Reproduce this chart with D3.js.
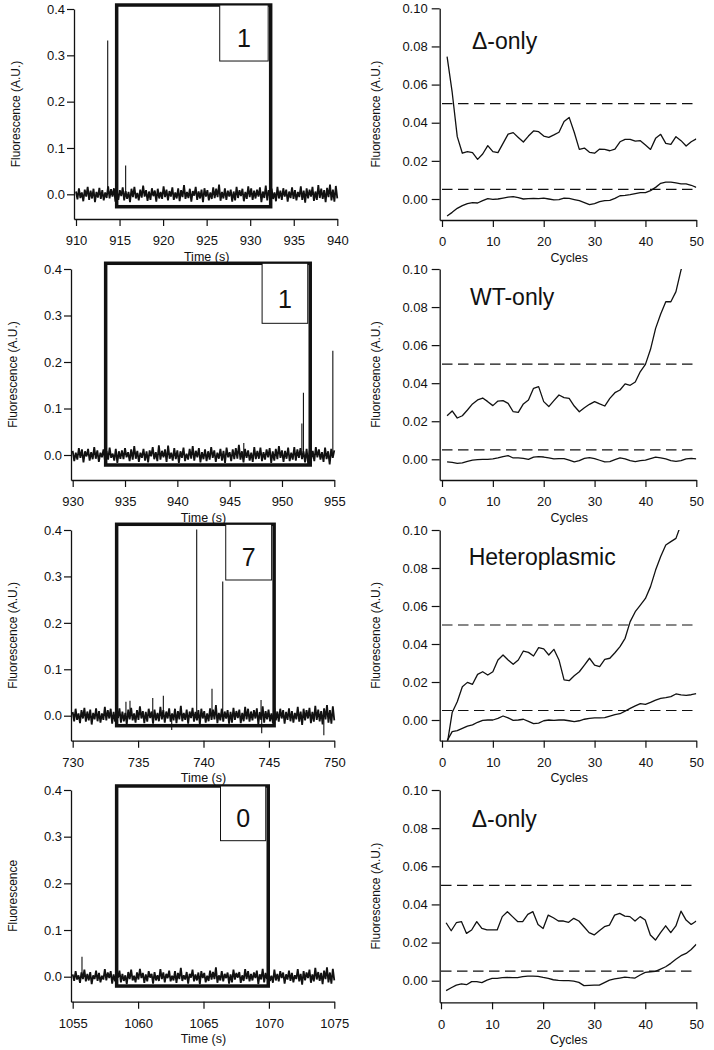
<!DOCTYPE html>
<html><head><meta charset="utf-8">
<script src="https://cdn.jsdelivr.net/npm/d3@7"></script>
<style>
body{margin:0;background:#fff}
svg{display:block}
text{font-family:"Liberation Sans", Arial, Helvetica, sans-serif;fill:#111}
</style>
</head><body>
<svg id="chart" width="714" height="1050"></svg>
<script>
// ---------------- DATA ----------------
const timeRanges = [[910, 940], [930, 955], [730, 750], [1055, 1075]];
const timeTicks = [
  [910, 915, 920, 925, 930, 935, 940],
  [930, 935, 940, 945, 950, 955],
  [730, 735, 740, 745, 750],
  [1055, 1060, 1065, 1070, 1075]
];
const fluoTicks = [0.0, 0.1, 0.2, 0.3, 0.4];
const cycleTicks = [0, 10, 20, 30, 40, 50];
const pcrTicks = [0.00, 0.02, 0.04, 0.06, 0.08, 0.10];
const leftTitles = ["Fluorescence (A.U.)", "Fluorescence (A.U.)", "Fluorescence (A.U.)", "Fluorescence"];
const countLabels = ["1", "1", "7", "0"];
const sampleNames = ["\u0394-only", "WT-only", "Heteroplasmic", "\u0394-only"];
const windowStart = [914.67, 933.15, 733.36, 1058.36];
const windowEnd = [932.35, 952.7, 745.4, 1069.95];
const thresholds = [0.05, 0.005];
const cycles = d3.range(1, 51);

// baseline noise of the time traces (units of 0.001 A.U.)
const noiseA = [6,-11,13,-8,4,-15,10,-5,16,-12,8,-9,12,-17,5,-7,14,-10,9,-13,4,-8,17,-9,11,-5,13,-16,6,-12,9,-4,15,-13,7,-10,5,-17,12,-6,16,-9,3,-13,10,-7,19,-5,9,-14,6,-12,13,-4,8,-16,12,-9,5,-10,17,-6,10,-13,7,-5,15,-12,4,-9,13,-15,9,-6,20,-10,5,-8,12,-16,7,-3,16,-12,6,-9,10,-17,13,-5,9,-13,4,-10,15,-8,12,-6,21,-14,5,-9,13,-12,8,-5,10,-16,6,-13,16,-8,9,-4,12,-15,5,-10,17,-6,13,-12,8,-9,10,-5,15,-17,6,-8,19,-13,9,-6,12,-10,4,-15,16,-9,8,-12,13,-5,10,-16,6,-8,15,-10,9,-13,5,-6,17,-12,8,-18,13,-9,10,-5,16,-14,6,-12,20,-8,12,-10,9,-17,14,-6,21,-13,10,-16,18,-9];
const noiseB = [9,-13,5,-10,15,-6,12,-16,8,-3,13,-12,6,-9,17,-8,10,-15,5,-5,12,-13,9,-10,16,-6,3,-12,13,-17,8,-8,10,-9,15,-5,6,-13,12,-10,19,-8,9,-15,5,-6,13,-12,8,-16,10,-3,17,-9,6,-13,21,-10,9,-5,12,-15,20,-8,5,-12,15,-9,10,-17,8,-6,16,-13,3,-10,13,-8,19,-12,9,-5,15,-16,6,-9,12,-13,8,-10,17,-6,10,-15,5,-8,13,-12,9,-17,16,-5,6,-13,12,-9,15,-8,22,-10,8,-16,13,-6,10,-12,5,-15,17,-9,9,-8,16,-13,6,-10,12,-5,15,-17,8,-12,13,-9,19,-6,10,-15,9,-8,16,-13,5,-10,17,-12,12,-6,15,-9,8,-16,13,-19,10,-8,9,-13,17,-5,12,-10,6,-15,16,-9,8,-20,13,-6,10];
const noiseC = [8,-12,15,-9,5,-16,12,-6,17,-13,9,-10,13,-19,6,-8,16,-12,10,-15,5,-9,19,-10,12,-6,15,-17,8,-13,10,-5,16,-15,9,-12,6,-19,13,-8,17,-10,5,-15,12,-9,20,-6,10,-16,8,-13,15,-5,9,-17,13,-10,6,-12,19,-8,12,-15,9,-6,16,-13,5,-10,15,-16,10,-8,21,-12,6,-9,13,-17,9,-5,17,-13,8,-10,12,-19,15,-6,10,-15,5,-12,16,-9,13,-8,23,-16,6,-10,15,-13,9,-6,12,-17,8,-15,17,-9,10,-5,13,-16,6,-12,19,-8,15,-13,9,-10,12,-6,16,-19,8,-9,20,-15,10,-8,13,-12,5,-16,17,-10,9,-13,15,-6,12,-17,8,-9,16,-12,10,-15,6,-8,19,-13,9,-20,15,-10,12,-6,17,-16,8,-13,21,-9,13,-12,10,-19,16,-8,23,-15,12,-17,20,-10];
const noiseD = [5,-9,12,-6,3,-13,9,-5,15,-10,6,-8,10,-16,3,-5,13,-9,8,-12,2,-6,16,-8,9,-3,12,-15,5,-10,8,-2,13,-12,6,-9,3,-16,10,-5,15,-8,2,-12,9,-6,17,-3,8,-13,5,-10,12,-2,6,-15,10,-8,3,-9,16,-5,9,-12,6,-3,13,-10,2,-8,12,-13,8,-5,19,-9,3,-6,10,-15,6,-2,15,-10,5,-8,9,-16,12,-3,8,-12,2,-9,13,-6,10,-5,20,-13,3,-8,12,-10,6,-3,9,-15,5,-12,15,-6,8,-2,10,-13,3,-9,16,-5,12,-10,6,-8,9,-3,13,-16,5,-6,17,-12,8,-5,10,-9,2,-13,15,-8,6,-10,12,-3,9,-15,5,-6,13,-9,8,-12,3,-5,16,-10,6,-17,12,-8,9,-3,15,-13,5,-10,19,-6,10,-9,8,-16,13,-5,20,-12,9,-15,17,-8];

// bursts (time s, fluorescence A.U.)
const spikesA = [[913.64, 0.332], [915.7, 0.062]];
const spikesB = [[946.35, 0.026], [951.9, 0.068], [952.05, 0.134], [954.86, 0.224]];
const spikesC = [[734.07, 0.030], [734.38, 0.032], [736.12, 0.038], [736.93, 0.043], [737.57, -0.031],
                 [739.48, 0.401], [740.65, 0.058], [741.47, 0.289], [744.4, 0.034], [744.45, -0.038], [749.2, -0.042]];
const spikesD = [[1055.71, 0.043]];

// PCR amplification curves (cycles 1..50)
const upper1 = [0.0747,0.056,0.0327,0.024,0.0248,0.0243,0.0208,0.0236,0.028,0.0248,0.0243,0.0292,0.034,0.0348,0.0323,0.0299,0.033,0.0357,0.0353,0.033,0.0323,0.0336,0.035,0.0406,0.0428,0.035,0.026,0.0267,0.0245,0.024,0.0262,0.026,0.0253,0.0262,0.030,0.0313,0.0313,0.0304,0.0306,0.0283,0.026,0.0318,0.0339,0.0292,0.0287,0.0327,0.0306,0.0278,0.030,0.0315];
const lower1 = [-0.0089,-0.007,-0.0049,-0.0035,-0.0024,-0.0019,-0.0021,-0.0009,0.0002,-0.0002,0,0.0005,0.001,0.0012,0.0007,0,0.0002,0.0003,0.0002,0.0005,0,-0.0005,-0.0003,0.0005,0.0003,-0.0003,-0.0009,-0.0019,-0.003,-0.0024,-0.0014,-0.0009,-0.0007,0.0003,0.0017,0.0019,0.0023,0.0028,0.0033,0.0033,0.0044,0.0061,0.0082,0.0089,0.0089,0.0084,0.0079,0.0079,0.0072,0.0061];
const upper2 = [0.0229,0.0254,0.0217,0.0229,0.0259,0.0291,0.0312,0.0322,0.0303,0.0282,0.0306,0.0308,0.0294,0.025,0.0247,0.0291,0.0312,0.0373,0.0382,0.0303,0.0277,0.0308,0.0338,0.0324,0.032,0.028,0.025,0.0271,0.0289,0.0303,0.0291,0.028,0.032,0.035,0.0364,0.0396,0.0389,0.0406,0.0461,0.0499,0.0578,0.0688,0.0764,0.0828,0.0828,0.0881,0.0995,0.108,0.115,0.12];
const lower2 = [-0.0014,-0.0016,-0.0021,-0.0019,-0.0011,-0.0004,-0.0002,0,0,0.0002,0.0007,0.0014,0.0019,0.0007,0.0007,0.0005,0,0.0011,0.0014,0.0012,0.0007,0.0002,0.0004,0.0004,-0.0004,-0.0014,-0.0007,0.0005,0.0009,0.0004,-0.0005,-0.0014,-0.0012,-0.0002,0.0007,0.0002,-0.0007,-0.0012,-0.0007,-0.0004,0.0004,0.0011,0.0007,0.0002,-0.0007,-0.0011,-0.0007,0.0002,0.0005,0.0002];
const upper3 = [-0.013,0.0039,0.0096,0.0175,0.0198,0.0188,0.024,0.0254,0.0237,0.0254,0.0316,0.0342,0.0316,0.0293,0.0316,0.0363,0.0356,0.0337,0.0381,0.0374,0.0342,0.0372,0.0316,0.0211,0.0207,0.0233,0.0254,0.0289,0.0325,0.0289,0.0281,0.0319,0.0325,0.0354,0.0386,0.043,0.0518,0.057,0.0605,0.064,0.0702,0.0789,0.086,0.0921,0.0939,0.0956,0.103,0.11,0.115,0.12];
const lower3 = [-0.011,-0.0061,-0.0056,-0.0044,-0.0032,-0.0026,-0.0012,-0.0002,0,0,0.0009,0.0021,0.0011,-0.0002,0,0.0004,-0.0007,-0.0019,-0.0016,-0.0004,0,-0.0002,0,0,-0.0004,-0.0009,-0.0004,0.0004,0.0009,0.0011,0.0011,0.0012,0.0021,0.0028,0.0033,0.0047,0.0061,0.0074,0.0086,0.0082,0.0093,0.0105,0.0114,0.0118,0.0123,0.0137,0.0132,0.013,0.0133,0.0139];
const upper4 = [0.0304,0.0262,0.0304,0.031,0.0248,0.0266,0.031,0.0274,0.0266,0.0266,0.0266,0.0336,0.0362,0.0336,0.031,0.031,0.0348,0.0362,0.0295,0.0274,0.0344,0.033,0.0313,0.0313,0.0306,0.0327,0.0313,0.0283,0.0252,0.024,0.0262,0.0283,0.0292,0.0344,0.0353,0.0339,0.0336,0.0313,0.0336,0.0318,0.024,0.0213,0.0252,0.0288,0.0252,0.0287,0.0365,0.0318,0.0295,0.0313];
const lower4 = [-0.0052,-0.0037,-0.0023,-0.0017,-0.0021,-0.0005,-0.0005,-0.001,0.0003,0.0012,0.0012,0.0016,0.0017,0.0016,0.0016,0.0021,0.0024,0.0024,0.0023,0.0017,0.0012,0.0005,0.0002,0,0,-0.0002,-0.0009,-0.0026,-0.0024,-0.0023,-0.0023,-0.001,0.0003,0.0009,0.0014,0.0019,0.0016,0.0014,0.003,0.0044,0.0047,0.0049,0.0061,0.0073,0.0091,0.0112,0.0131,0.0143,0.0164,0.0191];

const noises = [noiseA, noiseB, noiseC, noiseD];
const spikes = [spikesA, spikesB, spikesC, spikesD];
const uppers = [upper1, upper2, upper3, upper4];
const lowers = [lower1, lower2, lower3, lower4];

// ---------------- LAYOUT ----------------
const leftL = [
  {ax: 74, x0: 76,   x1: 337.3, y0: 194.3, yTop: 9,   axY: 219,    boxLo: -0.0268, boxHi: 0.4086, lblLo: 0.2877, lblX: 926.5,  numDy: 41.5},
  {ax: 71, x0: 72.7, x1: 334.3, y0: 455,   yTop: 269, axY: 480,    boxLo: -0.0215, boxHi: 0.4123, lblLo: 0.2832, lblX: 948.1,  numDy: 44.5},
  {ax: 71, x0: 72.7, x1: 334.3, y0: 715.7, yTop: 530, axY: 740.7,  boxLo: -0.0215, boxHi: 0.4123, lblLo: 0.2923, lblX: 741.7,  numDy: 41.5},
  {ax: 71, x0: 72.7, x1: 334.3, y0: 976.7, yTop: 790, axY: 1001.7, boxLo: -0.020,  boxHi: 0.4086, lblLo: 0.2914, lblX: 1066.3, numDy: 41.5}
];
const rightL = [
  {ax: 439.7, x0: 442, x1: 696.3, y0: 199,   yTop: 8.3, axY: 220,    nameX: 5.9,  nameY: 0.0785},
  {ax: 439.7, x0: 442, x1: 696.3, y0: 459.3, yTop: 269, axY: 480,    nameX: 5.5,  nameY: 0.081},
  {ax: 439.7, x0: 442, x1: 696.3, y0: 720,   yTop: 530, axY: 740.7,  nameX: 5.25, nameY: 0.0816},
  {ax: 439.7, x0: 441, x1: 696.3, y0: 980.7, yTop: 790, axY: 1002.3, nameX: 6.0,  nameY: 0.0808}
];

const svg = d3.select("#chart");
const ink = "#111";

function styleAxis(g, fs) {
  g.select(".domain").attr("stroke", ink).attr("stroke-width", 1.3);
  g.selectAll(".tick line").attr("stroke", ink).attr("stroke-width", 1.2);
  g.selectAll(".tick text").attr("font-size", fs).attr("fill", ink)
    .attr("font-family", '"Liberation Sans", Arial, sans-serif');
}

// ---------------- LEFT PANELS (time traces) ----------------
leftL.forEach((L, i) => {
  const [t0, t1] = timeRanges[i];
  const x = d3.scaleLinear().domain([t0, t1]).range([L.x0, L.x1]);
  x.domain([x.invert(L.ax), t1]).range([L.ax, L.x1]);
  const y = d3.scaleLinear().domain([0, 0.4]).range([L.y0, L.yTop]);
  y.domain([y.invert(L.axY), 0.4]).range([L.axY, L.yTop]);

  const g = svg.append("g");
  const gy = g.append("g").attr("transform", `translate(${L.ax},0)`)
    .call(d3.axisLeft(y).tickValues(fluoTicks).tickFormat(d3.format(".1f")).tickSize(7).tickPadding(2).tickSizeOuter(0));
  styleAxis(gy, 13);
  const gx = g.append("g").attr("transform", `translate(0,${L.axY})`)
    .call(d3.axisBottom(x).tickValues(timeTicks[i]).tickFormat(d3.format("d")).tickSize(7).tickPadding(10).tickSizeOuter(0));
  styleAxis(gx, 13);

  g.append("text").attr("x", (L.x0 + L.x1) / 2).attr("y", L.axY + 41.5)
    .attr("text-anchor", "middle").attr("font-size", 12.5).text("Time (s)");
  g.append("text").attr("transform", `translate(${L.ax - 54},${(L.yTop + L.axY) / 2}) rotate(-90)`)
    .attr("text-anchor", "middle").attr("font-size", 12).text(leftTitles[i]);

  // trace
  const noise = noises[i];
  const n = noise.length;
  const pts = noise.map((v, k) => [t0 + k * (t1 - t0) / (n - 1), v * 0.001]);
  g.append("path").datum(pts)
    .attr("d", d3.line().x(d => x(d[0])).y(d => y(d[1])))
    .attr("fill", "none").attr("stroke", ink).attr("stroke-width", 1.8).attr("stroke-linejoin", "bevel");
  g.selectAll(".spk").data(spikes[i]).enter().append("line")
    .attr("x1", d => x(d[0])).attr("x2", d => x(d[0]))
    .attr("y1", y(0)).attr("y2", d => y(d[1]))
    .attr("stroke", ink).attr("stroke-width", 1.1);

  // observation window box
  g.append("rect")
    .attr("x", x(windowStart[i])).attr("y", y(L.boxHi))
    .attr("width", x(windowEnd[i]) - x(windowStart[i]))
    .attr("height", y(L.boxLo) - y(L.boxHi))
    .attr("fill", "none").attr("stroke", ink).attr("stroke-width", 3.5);
  // count label box
  const bx0 = x(L.lblX), bx1 = x(windowEnd[i]) - 2.5;
  const by0 = y(L.boxHi), by1 = y(L.lblLo);
  g.append("rect").attr("x", bx0).attr("y", by0).attr("width", bx1 - bx0).attr("height", by1 - by0)
    .attr("fill", "#fff").attr("stroke", ink).attr("stroke-width", 1);
  g.append("text").attr("x", (bx0 + bx1) / 2).attr("y", by0 + L.numDy)
    .attr("text-anchor", "middle").attr("font-size", 25).text(countLabels[i]);
});

// ---------------- RIGHT PANELS (amplification curves) ----------------
rightL.forEach((L, i) => {
  const x = d3.scaleLinear().domain([0, 50]).range([L.x0, L.x1]);
  x.domain([x.invert(L.ax), 50]).range([L.ax, L.x1]);
  const y = d3.scaleLinear().domain([0, 0.1]).range([L.y0, L.yTop]);
  y.domain([y.invert(L.axY), 0.1]).range([L.axY, L.yTop]);

  const g = svg.append("g");
  const gy = g.append("g").attr("transform", `translate(${L.ax},0)`)
    .call(d3.axisLeft(y).tickValues(pcrTicks).tickFormat(d3.format(".2f")).tickSize(8).tickPadding(4).tickSizeOuter(0));
  styleAxis(gy, 13);
  const gx = g.append("g").attr("transform", `translate(0,${L.axY})`)
    .call(d3.axisBottom(x).tickValues(cycleTicks).tickFormat(d3.format("d")).tickSize(7).tickPadding(10).tickSizeOuter(0));
  styleAxis(gx, 13);

  g.append("text").attr("x", (x(0) + x(50)) / 2).attr("y", L.axY + 41.5)
    .attr("text-anchor", "middle").attr("font-size", 12.5).text("Cycles");
  g.append("text").attr("transform", `translate(${L.ax - 60},${(L.yTop + L.axY) / 2}) rotate(-90)`)
    .attr("text-anchor", "middle").attr("font-size", 12).text("Fluorescence (A.U.)");

  const clipId = "clipR" + i;
  svg.append("clipPath").attr("id", clipId).append("rect")
    .attr("x", L.ax).attr("y", L.yTop).attr("width", L.x1 - L.ax).attr("height", L.axY - L.yTop);
  const cg = g.append("g").attr("clip-path", `url(#${clipId})`);

  thresholds.forEach(th => {
    cg.append("line").attr("x1", x(0)).attr("x2", x(50)).attr("y1", y(th)).attr("y2", y(th))
      .attr("stroke", ink).attr("stroke-width", 1.2).attr("stroke-dasharray", "10.5,5.5");
  });
  const line = d3.line().x((d, k) => x(cycles[k])).y(d => y(d));
  [uppers[i], lowers[i]].forEach(s => {
    cg.append("path").datum(s).attr("d", line)
      .attr("fill", "none").attr("stroke", ink).attr("stroke-width", 1.3).attr("stroke-linejoin", "round");
  });

  g.append("text").attr("x", x(L.nameX)).attr("y", y(L.nameY))
    .attr("font-size", 23).text(sampleNames[i]);
});
</script>
</body></html>
